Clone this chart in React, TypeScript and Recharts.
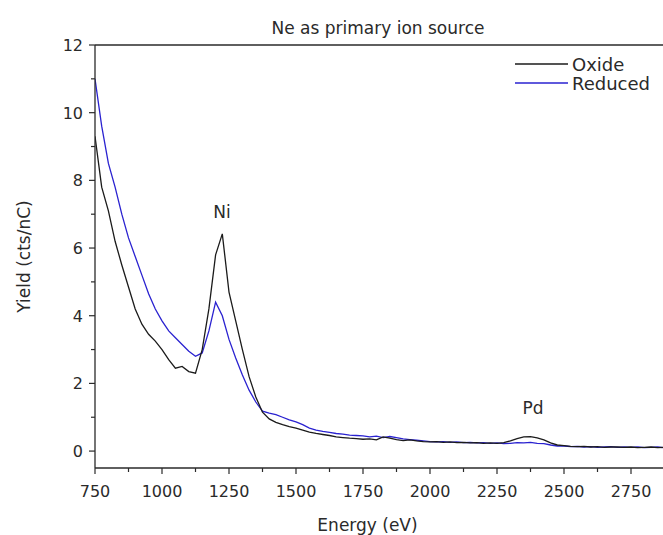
import { LineChart, Line, XAxis, YAxis, ReferenceLine, ReferenceDot } from "recharts";

const energy = [
  750, 775, 800, 825, 850, 875, 900, 925, 950, 975,
  1000, 1025, 1050, 1075, 1100, 1125, 1150, 1175, 1200, 1225,
  1250, 1275, 1300, 1325, 1350, 1375, 1400, 1425, 1450, 1475,
  1500, 1525, 1550, 1575, 1600, 1625, 1650, 1675, 1700, 1725,
  1750, 1775, 1800, 1825, 1850, 1875, 1900, 1925, 1950, 1975,
  2000, 2025, 2050, 2075, 2100, 2125, 2150, 2175, 2200, 2225,
  2250, 2275, 2300, 2325, 2350, 2375, 2400, 2425, 2450, 2475,
  2500, 2525, 2550, 2575, 2600, 2625, 2650, 2675, 2700, 2725,
  2750, 2775, 2800, 2825, 2850, 2875, 2900, 2925, 2950, 2975, 3000,
];

const oxide = [
  9.3, 7.8, 7.1, 6.2, 5.5, 4.85, 4.2, 3.75, 3.45, 3.25,
  3.0, 2.7, 2.45, 2.5, 2.35, 2.3, 3.0, 4.2, 5.8, 6.42,
  4.7, 3.85, 3.0, 2.2, 1.6, 1.15, 0.95, 0.85, 0.78, 0.72,
  0.68, 0.62, 0.56, 0.52, 0.49, 0.46, 0.42, 0.4, 0.38, 0.37,
  0.35, 0.36, 0.33, 0.42, 0.38, 0.34, 0.31, 0.33, 0.3, 0.28,
  0.27, 0.28, 0.26, 0.27, 0.25, 0.26, 0.24, 0.25, 0.23, 0.24,
  0.23, 0.25, 0.3, 0.37, 0.42, 0.43, 0.39, 0.33, 0.24, 0.18,
  0.16, 0.14, 0.13, 0.14, 0.12, 0.13, 0.11, 0.12, 0.12, 0.11,
  0.12, 0.1, 0.11, 0.12, 0.1, 0.11, 0.1, 0.11, 0.1, 0.1, 0.1,
];

const reduced = [
  11.0, 9.6, 8.5, 7.8, 7.0, 6.3, 5.75, 5.2, 4.65, 4.2,
  3.85, 3.55, 3.35, 3.15, 2.95, 2.8, 2.9, 3.55, 4.4, 4.0,
  3.3, 2.75, 2.25, 1.8, 1.45, 1.18, 1.12, 1.08, 1.0, 0.92,
  0.86, 0.78, 0.68, 0.62, 0.58, 0.55, 0.52, 0.5, 0.47, 0.46,
  0.45, 0.42, 0.44, 0.4, 0.43, 0.4, 0.36, 0.34, 0.32, 0.3,
  0.28, 0.27, 0.28, 0.26, 0.27, 0.25, 0.26, 0.24, 0.25, 0.23,
  0.24, 0.22, 0.23, 0.25, 0.24, 0.26, 0.23, 0.22, 0.18, 0.15,
  0.15, 0.13, 0.14, 0.12, 0.13, 0.11, 0.12, 0.13, 0.11, 0.12,
  0.11, 0.12, 0.1, 0.11, 0.12, 0.1, 0.11, 0.1, 0.11, 0.1, 0.1,
];

const xTicks = [750, 875, 1000, 1125, 1250, 1375, 1500, 1625, 1750, 1875, 2000, 2125, 2250, 2375, 2500, 2625, 2750];
const yTicks = [0, 1, 2, 3, 4, 5, 6, 7, 8, 9, 10, 11, 12];

const data = energy.map((e, i) => ({ energy: e, oxide: oxide[i], reduced: reduced[i] }));

const FONT = "'DejaVu Sans', 'Liberation Sans', sans-serif";
const INK = "#2a2a2a";
const BLACK = "#1b1b1b";
const BLUE = "#2a22d0";

function XTick({ x, y, payload }: any) {
  const major = payload.value % 250 === 0;
  return (
    <g>
      <line x1={x} x2={x} y1={y} y2={y + (major ? 6 : 4)} stroke={INK} strokeWidth={1.2} />
      {major && (
        <text x={x} y={y + 29} textAnchor="middle" fontSize={16} fontFamily={FONT} fill={INK}>
          {payload.value}
        </text>
      )}
    </g>
  );
}

function YTick({ x, y, payload }: any) {
  const major = payload.value % 2 === 0;
  return (
    <g>
      <line x1={x - (major ? 6 : 4)} x2={x} y1={y} y2={y} stroke={INK} strokeWidth={1.2} />
      {major && (
        <text x={x - 12} y={y + 6} textAnchor="end" fontSize={16} fontFamily={FONT} fill={INK}>
          {payload.value}
        </text>
      )}
    </g>
  );
}

const legendRows = [
  { name: "Oxide", color: BLACK },
  { name: "Reduced", color: BLUE },
];

export default function App() {
  return (
    <div style={{ position: "absolute", left: 0, top: 0, width: 663, height: 535, overflow: "hidden", background: "#fff" }}>
      <LineChart width={720} height={535} data={data} margin={{ top: 45, right: 22, bottom: 0, left: 0 }}>
        <XAxis
          dataKey="energy"
          type="number"
          domain={[750, 3000]}
          ticks={xTicks}
          interval={0}
          tick={<XTick />}
          tickLine={false}
          tickSize={0}
          tickMargin={0}
          height={67}
          axisLine={{ stroke: INK, strokeWidth: 1.3 }}
          allowDataOverflow
          label={{ value: "Energy (eV)", position: "insideBottom", offset: 4, fontSize: 17, fontFamily: FONT, fill: INK, dx: -29 }}
        />
        <YAxis
          type="number"
          domain={[-0.5, 12]}
          ticks={yTicks}
          interval={0}
          tick={<YTick />}
          tickLine={false}
          tickSize={0}
          tickMargin={0}
          width={95}
          axisLine={{ stroke: INK, strokeWidth: 1.3 }}
          allowDataOverflow
          label={{ value: "Yield (cts/nC)", angle: -90, position: "insideLeft", offset: 24, fontSize: 17, fontFamily: FONT, fill: INK, style: { textAnchor: "middle" } }}
        />
        <ReferenceLine y={12} stroke={INK} strokeWidth={1.3} />
        <ReferenceLine x={3000} stroke={INK} strokeWidth={1.3} />
        <ReferenceDot
          x={1224}
          y={7.06}
          r={0}
          label={{ value: "Ni", position: "center", fontSize: 17, fontFamily: FONT, fill: INK }}
        />
        <ReferenceDot
          x={2384}
          y={1.27}
          r={0}
          label={{ value: "Pd", position: "center", fontSize: 17, fontFamily: FONT, fill: INK }}
        />
        <Line dataKey="reduced" stroke={BLUE} strokeWidth={1.3} dot={false} isAnimationActive={false} />
        <Line dataKey="oxide" stroke={BLACK} strokeWidth={1.3} dot={false} isAnimationActive={false} />
      </LineChart>
      <div
        style={{
          position: "absolute",
          left: 0,
          width: 756,
          top: 18,
          textAlign: "center",
          fontFamily: FONT,
          fontSize: 17,
          color: INK,
        }}
      >
        Ne as primary ion source
      </div>
      <svg width={148} height={50} style={{ position: "absolute", left: 515, top: 52, overflow: "visible" }}>
        {legendRows.map((r, i) => (
          <g key={r.name}>
            <line x1={0} x2={53} y1={12 + i * 19} y2={12 + i * 19} stroke={r.color} strokeWidth={1.3} />
            <text x={57} y={19 + i * 19} fontSize={18} fontFamily={FONT} fill={INK}>
              {r.name}
            </text>
          </g>
        ))}
      </svg>
    </div>
  );
}
